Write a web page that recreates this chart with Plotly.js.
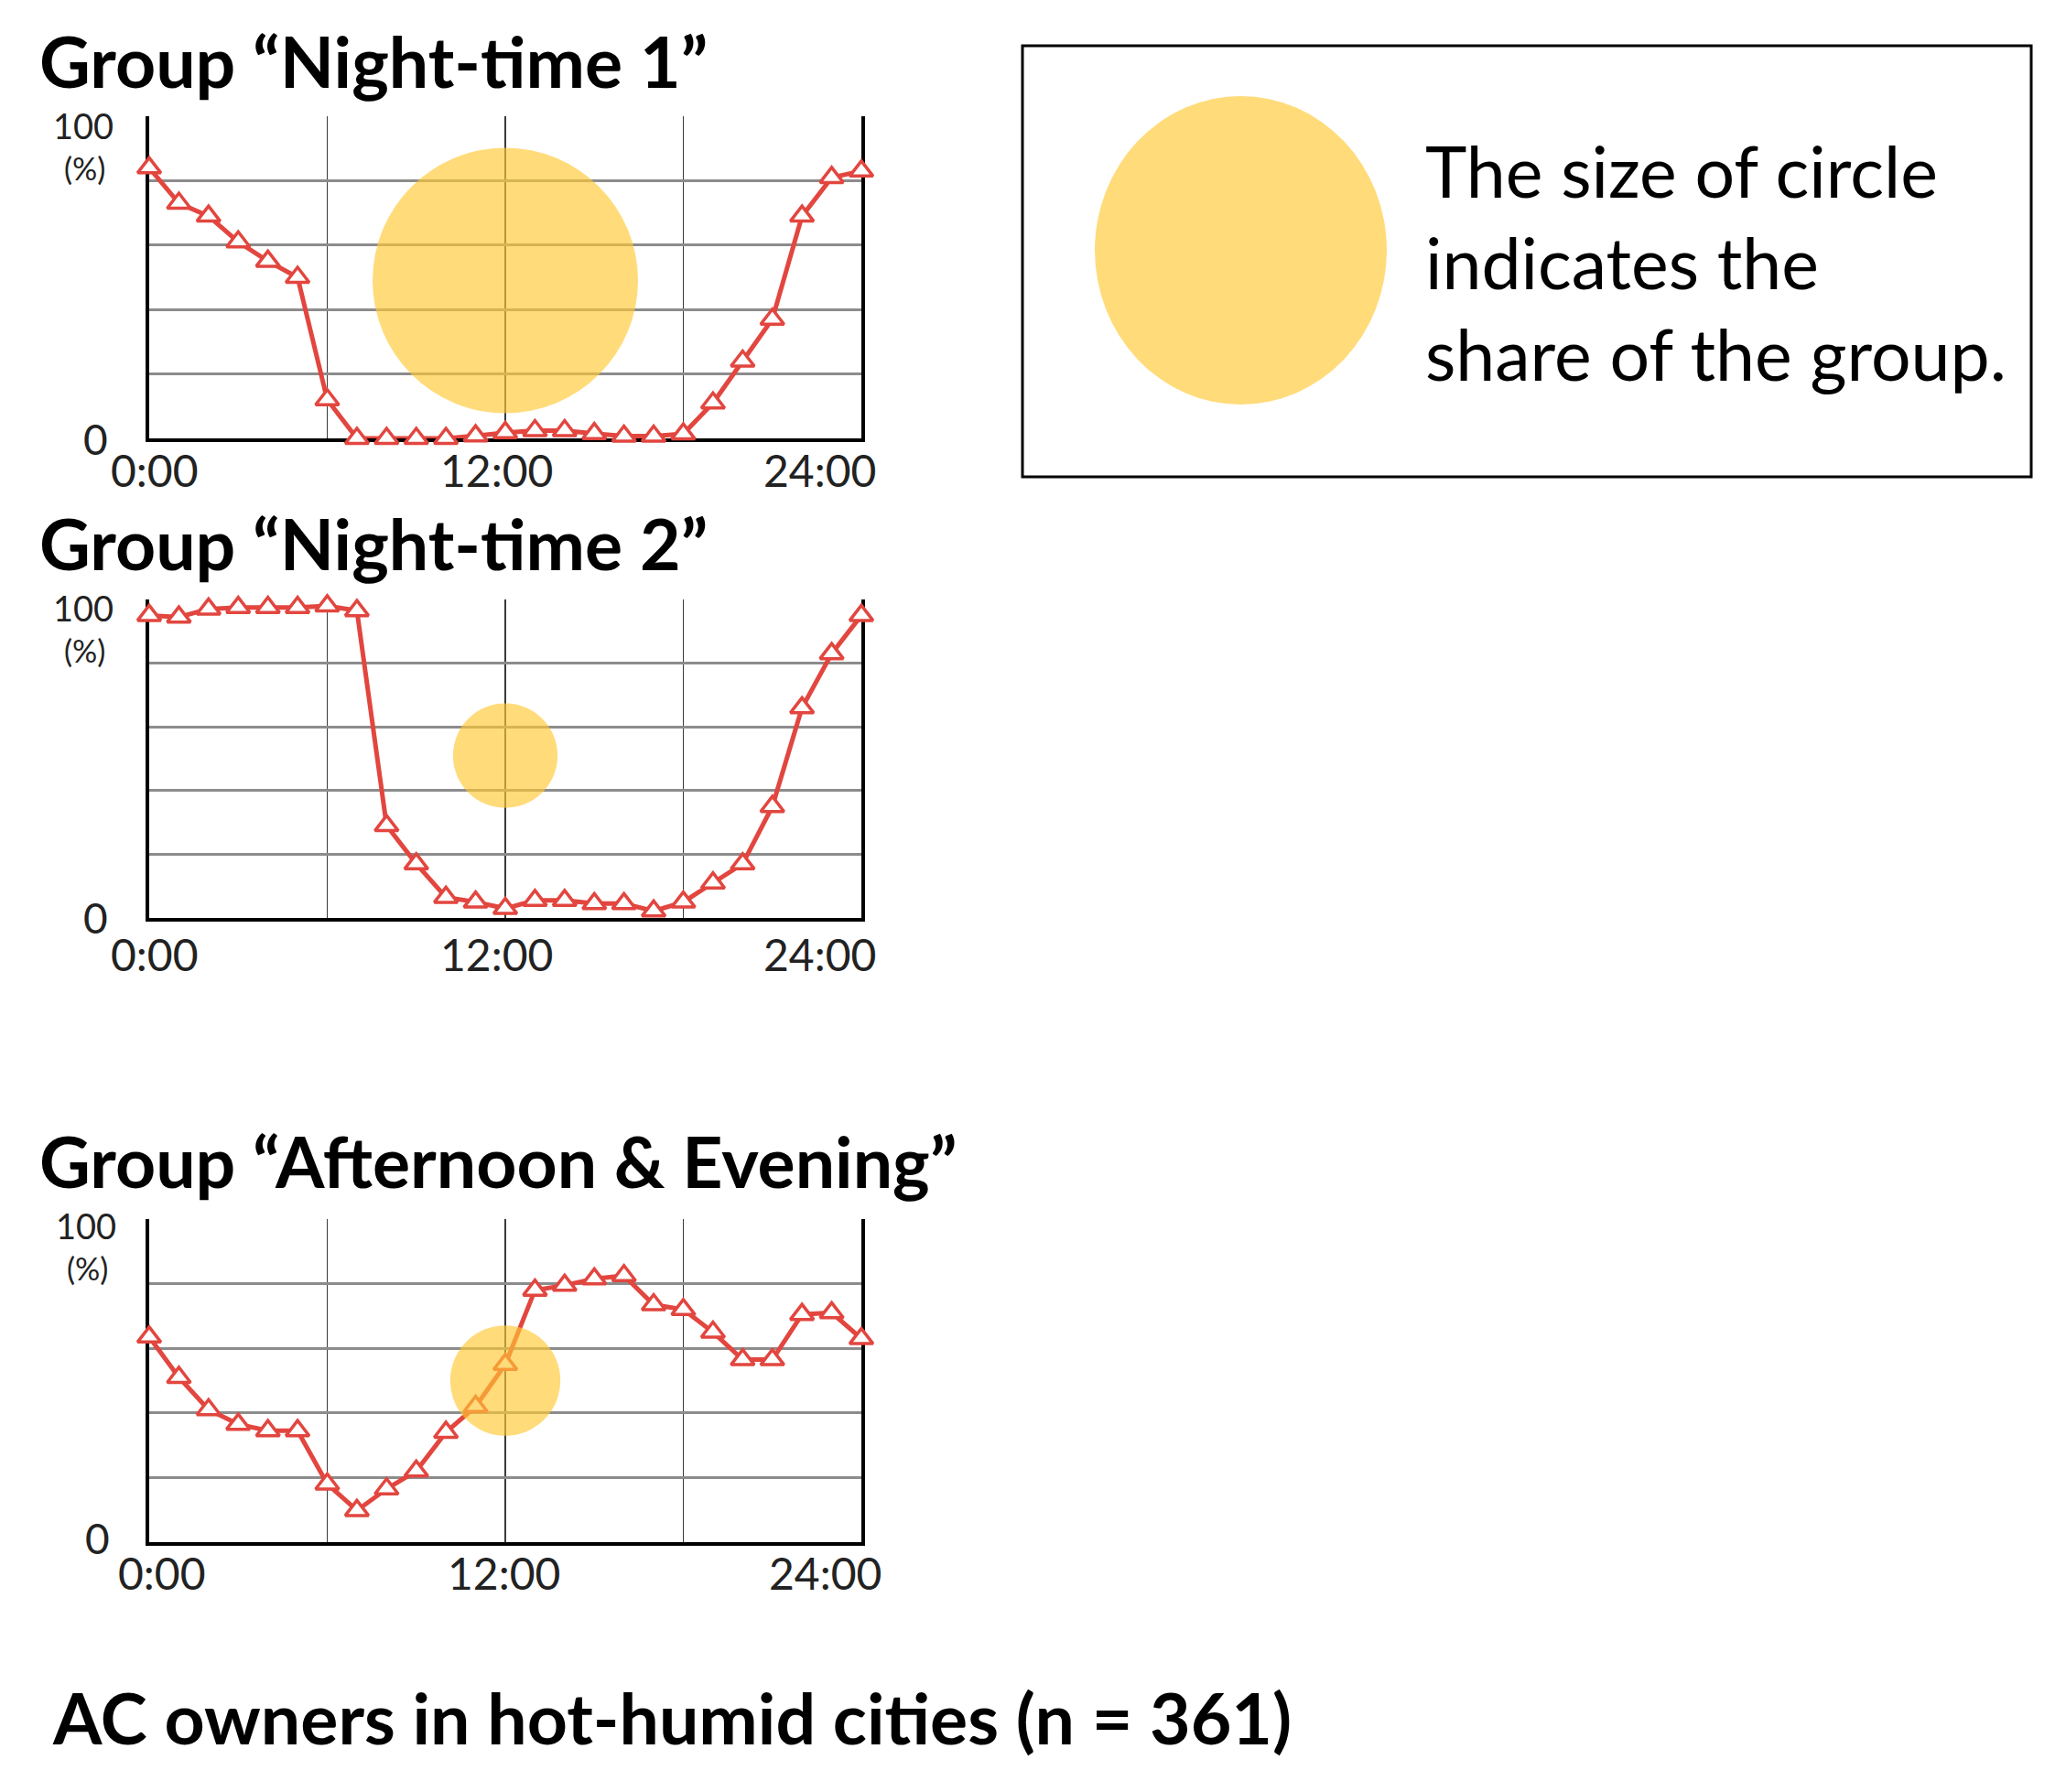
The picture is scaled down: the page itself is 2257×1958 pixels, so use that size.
<!DOCTYPE html>
<html>
<head>
<meta charset="utf-8">
<script src="https://cdn.plot.ly/plotly-3.0.1.min.js"></script>
<style>
  body { margin: 0; background: #fff; }
  #chart { width: 2257px; height: 1958px; }
</style>
</head>
<body>
<div id="chart"></div>
<script>
// hour of day, 0:00 .. 24:00
var hours = [0,1,2,3,4,5,6,7,8,9,10,11,12,13,14,15,16,17,18,19,20,21,22,23,24];

// share of AC in use (%) per hour
var nightTime1 = [84, 73, 69, 61, 55, 50, 12, 0, 0, 0, 0, 0.8, 1.8, 2.4, 2.4, 1.5, 0.7, 0.7, 1.4, 11, 24, 37, 69, 81, 83];
var nightTime2 = [95, 94.5, 97, 97.5, 97.5, 97.5, 98, 96.5, 29, 17, 6.5, 5, 3, 5.5, 5.5, 4.5, 4.5, 2.2, 5, 11, 17, 35, 66, 83, 95];
var afternoonEvening = [63.5, 51, 41, 36.5, 34.5, 34.5, 18, 9.8, 16.5, 22, 34, 42, 55, 78, 79.5, 81.5, 82.5, 73.5, 72, 65, 56.5, 56.5, 70.5, 71, 63];

var groupTitles = ['Group \u201cNight-time 1\u201d', 'Group \u201cNight-time 2\u201d', 'Group \u201cAfternoon & Evening\u201d'];
// estimated share of each group (%), drawn as circle area
var groupShare = [58, 9, 10];
var circleHour = [12, 12, 12];
var circleLevel = [49, 51, 50];

var xTickVals = [0, 12, 24];
var xTickText = ['0:00', '12:00', '24:00'];
var yTickText = ['0', '100'];
var yUnit = '(%)';
var legendLines = ['The size of circle', 'indicates the', 'share of the group.'];
var mainTitle = 'AC owners in hot-humid cities (n = 361)';

var series = [nightTime1, nightTime2, afternoonEvening];

// page geometry (pixels)
var W = 2257, H = 1958;
var plotLeft = 163, plotRight = 941;
var panels = [
  {top: 127, bottom: 479, title: 66, y100: 137, yPct: 183, y0: 480, xlab: 513, xoff: [6, -10, -46], lab100: 91, lab0: 104},
  {top: 655, bottom: 1003, title: 593, y100: 664, yPct: 710, y0: 1003, xlab: 1042, xoff: [6, -10, -46], lab100: 91, lab0: 104},
  {top: 1332, bottom: 1685, title: 1268, y100: 1339, yPct: 1385, y0: 1680, xlab: 1718, xoff: [14, -2, -40], lab100: 94, lab0: 106}
];

function px(x) { return x / W; }
function py(y) { return 1 - y / H; }

var red = '#E2463F';
var gold = 'rgb(255,200,50)';
var font = 'Lato, "Open Sans", sans-serif';
var sizeRef = groupShare[0] / (2 * 145 * 145);

var data = [];
var layout = {
  width: W, height: H,
  margin: {l: 0, r: 0, t: 0, b: 0},
  paper_bgcolor: '#fff', plot_bgcolor: '#fff',
  showlegend: false,
  hovermode: false,
  font: {family: font, color: '#111'},
  annotations: [],
  shapes: []
};

for (var i = 0; i < 3; i++) {
  var p = panels[i];
  var n = i === 0 ? '' : String(i + 1);
  var xa = 'x' + n, ya = 'y' + n;

  data.push({
    x: hours, y: series[i], xaxis: xa, yaxis: ya,
    type: 'scatter', mode: 'lines+markers', cliponaxis: false,
    line: {color: red, width: 5},
    marker: {symbol: 'triangle-up', size: 22, color: '#fff', line: {color: red, width: 3.5}}
  });
  data.push({
    x: [circleHour[i]], y: [circleLevel[i]], xaxis: xa, yaxis: ya,
    type: 'scatter', mode: 'markers', cliponaxis: false,
    marker: {size: [groupShare[i]], sizemode: 'area', sizeref: sizeRef,
             color: gold, opacity: 0.65, line: {width: 0}}
  });

  layout['xaxis' + n] = {
    domain: [px(plotLeft), px(plotRight)], range: [0, 24], anchor: ya,
    tickvals: [6, 12, 18], showticklabels: false, ticks: '',
    showgrid: true, gridcolor: '#3a3a3a', gridwidth: 1.5, zeroline: false,
    showline: true, linecolor: '#000', linewidth: 4, layer: 'below traces'
  };
  layout['yaxis' + n] = {
    domain: [py(p.bottom), py(p.top)], range: [0, 100], anchor: xa,
    tickvals: [20, 40, 60, 80, 100], showticklabels: false, ticks: '',
    showgrid: true, gridcolor: '#8c8c8c', gridwidth: 3, zeroline: false,
    showline: true, mirror: true, linecolor: '#000', linewidth: 4, layer: 'below traces'
  };

  // group title
  layout.annotations.push({
    xref: 'paper', yref: 'paper', x: px(41), y: py(p.title), xanchor: 'left', yanchor: 'middle',
    text: groupTitles[i], showarrow: false, font: {size: 77, color: '#000', weight: 'bold'}
  });
  // y labels
  layout.annotations.push({
    xref: 'paper', yref: 'paper', x: px(p.lab100), y: py(p.y100), xanchor: 'center', yanchor: 'middle',
    text: yTickText[1], showarrow: false, font: {size: 38, color: '#222'}
  });
  layout.annotations.push({
    xref: 'paper', yref: 'paper', x: px(p.lab100 + 1), y: py(p.yPct), xanchor: 'center', yanchor: 'middle',
    text: yUnit, showarrow: false, font: {size: 34, color: '#222'}
  });
  layout.annotations.push({
    xref: 'paper', yref: 'paper', x: px(p.lab0), y: py(p.y0), xanchor: 'center', yanchor: 'middle',
    text: yTickText[0], showarrow: false, font: {size: 46, color: '#222'}
  });
  // x tick labels
  for (var k = 0; k < xTickVals.length; k++) {
    layout.annotations.push({
      xref: xa, yref: 'paper', x: xTickVals[k], xshift: p.xoff[k], y: py(p.xlab),
      xanchor: 'center', yanchor: 'middle',
      text: xTickText[k], showarrow: false, font: {size: 48, color: '#222'}
    });
  }
}

// key box on the right
layout.shapes.push({
  type: 'rect', xref: 'paper', yref: 'paper',
  x0: px(1117), x1: px(2219), y0: py(521), y1: py(50),
  line: {color: '#000', width: 3}, fillcolor: 'rgba(0,0,0,0)'
});
layout.shapes.push({
  type: 'circle', xref: 'paper', yref: 'paper',
  x0: px(1196), x1: px(1515), y0: py(442), y1: py(105),
  line: {width: 0}, fillcolor: gold, opacity: 0.65
});
var legendY = [186, 286, 386];
for (var j = 0; j < legendLines.length; j++) {
  layout.annotations.push({
    xref: 'paper', yref: 'paper', x: px(1555), y: py(legendY[j]), xanchor: 'left', yanchor: 'middle',
    text: legendLines[j], showarrow: false, font: {size: 77, color: '#000'}
  });
}

layout.annotations.push({
  xref: 'paper', yref: 'paper', x: px(55), y: py(1876), xanchor: 'left', yanchor: 'middle',
  text: mainTitle, showarrow: false, font: {size: 77, color: '#000', weight: 'bold'}
});

Plotly.newPlot('chart', data, layout, {staticPlot: true});
</script>
</body>
</html>
